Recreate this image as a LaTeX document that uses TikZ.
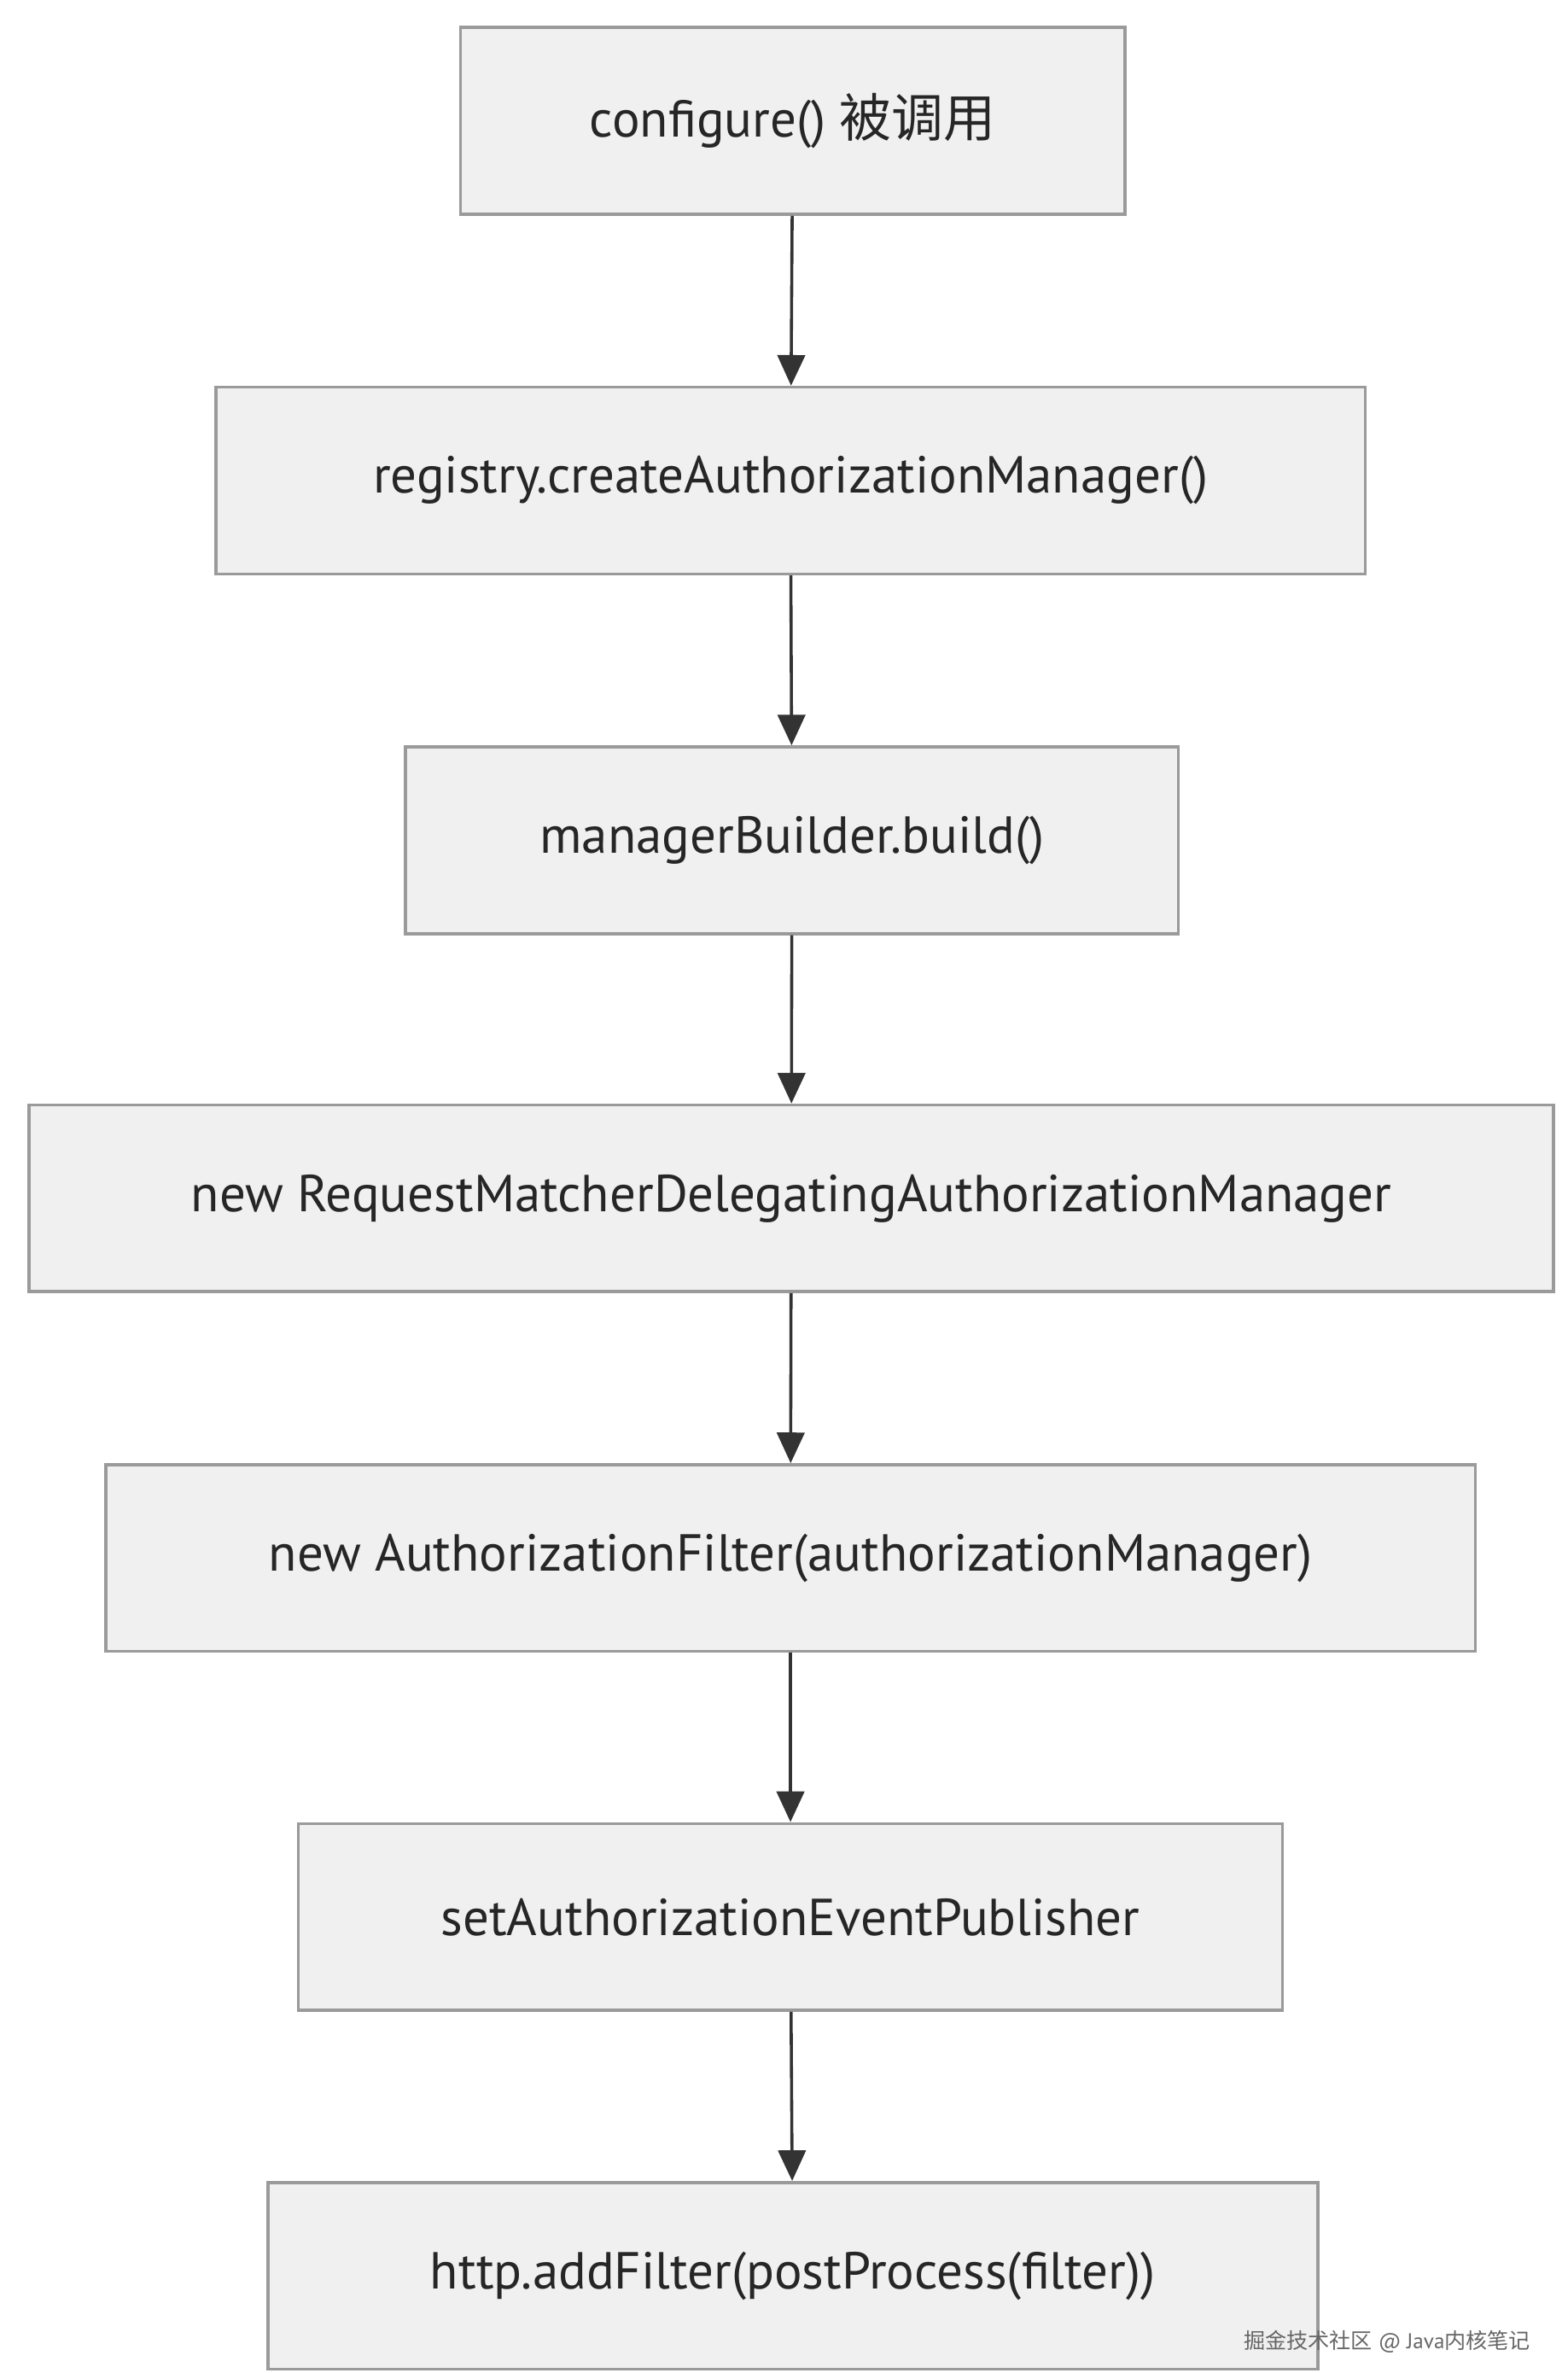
\documentclass[tikz,border=0pt]{standalone}
\usepackage{fontspec}
\setmainfont{PT Sans}
\newfontfamily\cjk{Noto Sans CJK SC}
\usetikzlibrary{arrows.meta}
\definecolor{boxfill}{HTML}{F0F0F0}
\definecolor{boxline}{HTML}{9A9A9A}
\definecolor{arr}{HTML}{333333}
\begin{document}
\begin{tikzpicture}[x=0.5pt,y=-0.5pt,
  box/.style={draw=boxline,fill=boxfill,line width=1pt,inner sep=0pt,font=\fontsize{17}{20}\selectfont,text=black!85},
  ar/.style={draw=arr,line width=1pt,-{Triangle[length=10pt,width=9pt]}}]
\useasboundingbox (0,0) rectangle (1024,1550.5);
\node[box,minimum width=217pt,minimum height=61pt] (a) at (518,79) {configure() {\cjk 被调用}};
\node[box,minimum width=375.5pt,minimum height=61pt] (b) at (516.5,314) {registry.createAuthorizationManager()};
\node[box,minimum width=252.5pt,minimum height=61pt] (c) at (517.5,549) {managerBuilder.build()};
\node[box,minimum width=498pt,minimum height=61pt] (d) at (517,783) {new RequestMatcherDelegatingAuthorizationManager};
\node[box,minimum width=447.5pt,minimum height=61pt] (e) at (516.5,1018) {new AuthorizationFilter(authorizationManager)};
\node[box,minimum width=321.5pt,minimum height=61pt] (f) at (516.5,1252.5) {setAuthorizationEventPublisher};
\node[box,minimum width=343pt,minimum height=61pt] (g) at (518,1487) {http.addFilter(postProcess(filter))};
\draw[ar] (a) -- (b);
\draw[ar] (b) -- (c);
\draw[ar] (c) -- (d);
\draw[ar] (d) -- (e);
\draw[ar] (e) -- (f);
\draw[ar] (f) -- (g);
\node[anchor=east,text=black!60,font=\fontsize{7}{8}\selectfont] (w) at (1007,1530) {{\cjk 掘金技术社区} @ Java{\cjk 内核笔记}};
\end{tikzpicture}
\end{document}
